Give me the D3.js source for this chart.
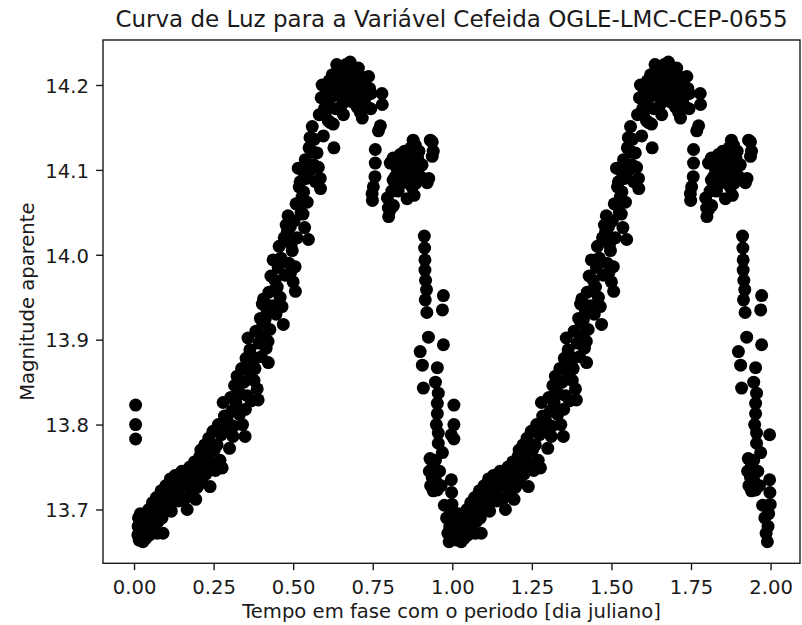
<!DOCTYPE html>
<html>
<head>
<meta charset="utf-8">
<script src="https://cdn.jsdelivr.net/npm/d3@7"></script>
<style>
  body { margin: 0; background: #fff; }
  text { font-family: "DejaVu Sans", sans-serif; fill: #1a1a1a; }
</style>
</head>
<body>
<div id="plot"></div>
<script>
// Light curve points [phase, magnitude], one array per part of the cycle
const minimumPts = [
  [0.005,13.823],[0.005,13.800],[0.005,13.783],
  [0.012,13.670],[0.013,13.680],[0.014,13.690],[0.016,13.664],[0.017,13.676],[0.019,13.686],
  [0.020,13.695],[0.022,13.668],[0.024,13.680],[0.026,13.690],[0.028,13.662],[0.030,13.674],
  [0.032,13.684],[0.035,13.694],[0.037,13.666],[0.040,13.678],[0.043,13.690],[0.046,13.700],
  [0.049,13.670],[0.052,13.684],[0.055,13.696],[0.058,13.708],[0.061,13.676],[0.064,13.690],
  [0.067,13.702],[0.070,13.714],[0.073,13.672],[0.076,13.686],[0.079,13.698],[0.082,13.710],
  [0.085,13.722],[0.088,13.690],[0.091,13.672],[0.094,13.704],[0.097,13.716],[0.100,13.728],
  [0.104,13.700],[0.108,13.712],[0.111,13.724],[0.114,13.736],[0.117,13.698],[0.121,13.710],
  [0.125,13.726],[0.129,13.740]
];

const risingPts = [
  [0.135,13.722],[0.140,13.710],[0.145,13.732],[0.150,13.745],[0.154,13.727],[0.158,13.712],
  [0.163,13.738],[0.167,13.700],[0.170,13.735],[0.175,13.750],[0.180,13.722],[0.185,13.738],
  [0.190,13.756],[0.194,13.712],[0.198,13.726],[0.202,13.744],[0.206,13.762],[0.210,13.770],
  [0.213,13.732],[0.217,13.750],[0.222,13.776],[0.226,13.742],[0.230,13.762],[0.235,13.784],
  [0.239,13.727],[0.243,13.756],[0.248,13.792],[0.252,13.770],[0.256,13.746],[0.261,13.776],
  [0.265,13.800],[0.270,13.758],[0.274,13.788],[0.277,13.749],[0.280,13.826],[0.284,13.810],
  [0.288,13.794],[0.292,13.809],[0.296,13.802],[0.300,13.772],[0.304,13.832],[0.308,13.816],
  [0.311,13.786],[0.313,13.798],[0.316,13.846],[0.320,13.826],[0.324,13.857],[0.327,13.840],
  [0.331,13.812],[0.334,13.836],[0.338,13.866],[0.341,13.800],[0.345,13.850],[0.349,13.786],
  [0.350,13.818],[0.352,13.878],[0.356,13.834],[0.358,13.902],[0.361,13.862],[0.364,13.888],
  [0.368,13.828],[0.371,13.880],[0.374,13.870],[0.377,13.852],[0.380,13.866],[0.383,13.910],
  [0.387,13.842],[0.390,13.829],[0.393,13.896],[0.397,13.925],[0.400,13.880],[0.403,13.942],
  [0.404,13.920],[0.407,13.948],[0.409,13.905],[0.412,13.924],[0.415,13.890],[0.418,13.935],
  [0.421,13.898],[0.422,13.873],[0.424,13.956],[0.427,13.912],[0.430,13.975],[0.434,13.940],
  [0.437,13.994],[0.440,13.958],[0.443,13.970],[0.446,13.930],[0.450,13.962],[0.453,13.985],
  [0.456,14.010],[0.459,13.950],[0.462,13.996],[0.465,13.939],[0.469,13.918],[0.472,14.020],
  [0.475,13.976],[0.478,14.035],[0.481,14.026],[0.484,14.046],[0.487,13.990],[0.491,14.033],
  [0.492,13.979],[0.494,14.012],[0.497,14.005],[0.500,13.968],[0.503,14.040],[0.506,13.986],
  [0.507,13.957],[0.509,14.060],[0.512,14.020],[0.516,14.102],[0.519,14.080],[0.522,14.086],
  [0.525,14.050],[0.528,14.068],[0.531,14.048],[0.532,14.098],[0.533,14.074],[0.536,14.032],
  [0.538,14.112],[0.541,14.090],[0.544,14.062],[0.548,14.018],[0.550,14.126],[0.553,14.138],
  [0.555,14.100],[0.560,14.151],[0.563,14.121],[0.564,14.106],[0.566,14.136],[0.570,14.086],
  [0.575,14.120],[0.579,14.103],[0.582,14.165],[0.585,14.090],[0.586,14.078],[0.588,14.185],
  [0.591,14.200],[0.595,14.140]
];

const peakPts = [
  [0.598,14.172],[0.601,14.166],[0.604,14.192],[0.607,14.180],[0.610,14.158],[0.613,14.205],
  [0.616,14.156],[0.620,14.186],[0.623,14.212],[0.626,14.154],[0.628,14.126],[0.630,14.198],
  [0.634,14.172],[0.637,14.224],[0.640,14.210],[0.644,14.188],[0.648,14.208],[0.652,14.220],
  [0.655,14.178],[0.658,14.165],[0.662,14.200],[0.666,14.224],[0.670,14.212],[0.674,14.190],
  [0.679,14.227],[0.683,14.206],[0.686,14.180],[0.690,14.190],[0.693,14.218],[0.697,14.200],
  [0.701,14.174],[0.705,14.220],[0.708,14.196],[0.711,14.168],[0.714,14.210],[0.717,14.161],
  [0.720,14.185],[0.724,14.202],[0.728,14.176],[0.733,14.188],[0.737,14.210],[0.740,14.196],
  [0.744,14.172],[0.745,14.190],[0.779,14.190],[0.780,14.177],[0.774,14.152],[0.768,14.146]
];

const bumpPts = [
  [0.758,14.124],[0.758,14.108],[0.757,14.092],[0.752,14.080],[0.748,14.072],[0.749,14.064],
  [0.796,14.067],[0.799,14.055],[0.800,14.045],[0.805,14.053],[0.805,14.108],[0.810,14.075],
  [0.814,14.114],[0.814,14.088],[0.815,14.058],[0.821,14.092],[0.826,14.102],[0.830,14.075],
  [0.836,14.118],[0.836,14.096],[0.840,14.108],[0.845,14.085],[0.850,14.122],[0.853,14.098],
  [0.858,14.106],[0.858,14.066],[0.862,14.116],[0.866,14.090],[0.870,14.126],[0.873,14.080],
  [0.877,14.135],[0.880,14.108],[0.880,14.070],[0.884,14.129],[0.885,14.084],[0.890,14.098],
  [0.891,14.114],[0.895,14.122],[0.900,14.092],[0.905,14.106],[0.921,14.085],[0.926,14.090],
  [0.931,14.135],[0.937,14.133],[0.937,14.116],[0.940,14.122]
];

const descentPts = [
  [0.912,14.022],[0.913,14.008],[0.914,13.994],[0.914,13.982],[0.916,13.970],[0.919,13.959],
  [0.915,13.947],[0.920,13.932],[0.972,13.952],[0.969,13.935],[0.925,13.903],[0.972,13.894],
  [0.899,13.886],[0.906,13.870],[0.953,13.867],[0.947,13.850],[0.909,13.843],[0.956,13.837],
  [0.953,13.825],[0.953,13.813],[0.950,13.800],[0.956,13.790],[0.956,13.778],[0.969,13.767],
  [0.947,13.758],[0.947,13.747],[0.947,13.735],[0.953,13.723],[0.940,13.752],[0.940,13.722],
  [0.937,13.738],[0.930,13.760],[0.928,13.745],[0.932,13.728],[0.960,13.745],[0.965,13.728],
  [0.975,13.705],[0.982,13.690],[0.986,13.672],[0.990,13.662],[0.992,13.680],[0.994,13.695],
  [0.997,13.735],[0.998,13.720],[0.999,13.706],[0.997,13.788]
];

// the cycle is drawn twice: phase and phase + 1
const cycleOffsets = [0, 1];

const xTicks = [0, 0.25, 0.5, 0.75, 1, 1.25, 1.5, 1.75, 2];
const yTicks = [13.7, 13.8, 13.9, 14.0, 14.1, 14.2];

const titleText = "Curva de Luz para a Variável Cefeida OGLE-LMC-CEP-0655";
const xLabelText = "Tempo em fase com o periodo [dia juliano]";
const yLabelText = "Magnitude aparente";

// Set dimensions and margins
const margin = { top: 40, right: 2, bottom: 61.7, left: 103 };
const width = 802 - margin.left - margin.right;
const height = 625 - margin.top - margin.bottom;

const svg = d3.select("#plot")
  .append("svg")
  .attr("width", 802)
  .attr("height", 625)
  .append("g")
  .attr("transform", `translate(${margin.left},${margin.top})`);

const x = d3.scaleLinear().domain([-0.0975, 2.0925]).range([0, width]);
const y = d3.scaleLinear().domain([13.6366, 14.253]).range([height, 0]);

const allPts = [].concat(minimumPts, risingPts, peakPts, bumpPts, descentPts);
const plotted = cycleOffsets.flatMap(off => allPts.map(d => ({ phase: d[0] + off, mag: d[1] })));

// scatter points
svg.append("g")
  .selectAll("circle")
  .data(plotted)
  .enter()
  .append("circle")
  .attr("cx", d => x(d.phase))
  .attr("cy", d => y(d.mag))
  .attr("r", 6.5)
  .attr("fill", "#000");

// X axis
const xAxis = svg.append("g")
  .attr("transform", `translate(0,${height})`)
  .call(d3.axisBottom(x).tickValues(xTicks).tickFormat(d3.format(".2f")).tickSize(6.9).tickPadding(9.4));

// Y axis
const yAxis = svg.append("g")
  .call(d3.axisLeft(y).tickValues(yTicks).tickFormat(d3.format(".1f")).tickSize(6.9).tickPadding(7.1));

[xAxis, yAxis].forEach(g => {
  g.select(".domain").remove();
  g.selectAll(".tick line").attr("stroke", "#1a1a1a").attr("stroke-width", 1.4);
  g.selectAll(".tick text")
    .attr("fill", "#1a1a1a")
    .style("font-family", "DejaVu Sans")
    .style("font-size", "19.6px");
});
yAxis.selectAll(".tick text").attr("dy", "0.37em");

// frame (spines)
svg.append("rect")
  .attr("width", width)
  .attr("height", height)
  .attr("fill", "none")
  .attr("stroke", "#1a1a1a")
  .attr("stroke-width", 1.4);

// title
svg.append("text")
  .attr("text-anchor", "middle")
  .attr("x", width / 2)
  .attr("y", -13)
  .style("font-size", "23px")
  .text(titleText);

// X label
svg.append("text")
  .attr("text-anchor", "middle")
  .attr("x", width / 2)
  .attr("y", height + 55)
  .style("font-size", "19.6px")
  .text(xLabelText);

// Y label
svg.append("text")
  .attr("text-anchor", "middle")
  .attr("transform", `translate(${34 - margin.left},${height / 2}) rotate(-90)`)
  .style("font-size", "19.6px")
  .text(yLabelText);
</script>
</body>
</html>
